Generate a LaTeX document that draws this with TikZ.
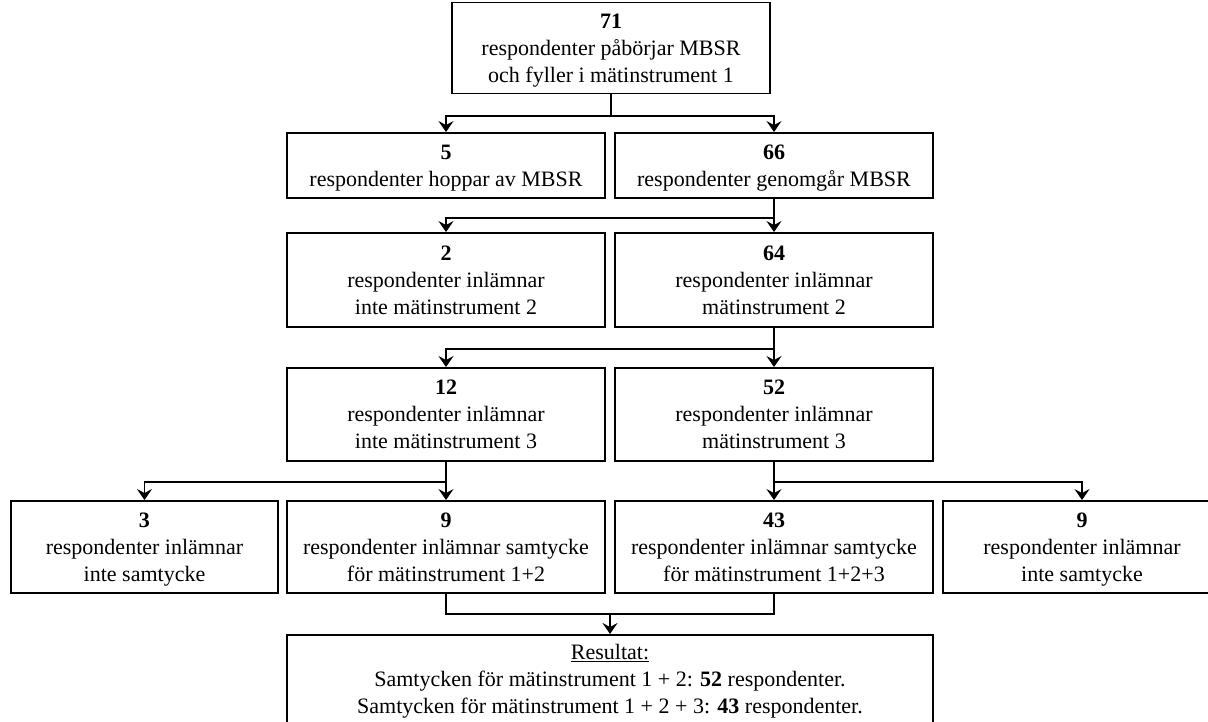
\documentclass[tikz,border=0pt]{standalone}
\usepackage{fontspec}
\setmainfont{Liberation Serif}
\usetikzlibrary{arrows.meta,calc}

\begin{document}
\begin{tikzpicture}[x=1pt,y=-1pt,
	every node/.style={font=\fontsize{22}{27}\selectfont,align=center,inner sep=0pt},
	box/.style={draw,line width=1.9pt,minimum width=318pt,text depth=0pt,execute at begin node=\strut},
	link/.style={line width=1.9pt},
	arr/.style={link,-{Stealth[length=11pt,width=15pt,inset=4pt]}}]
\useasboundingbox (0,0) rectangle (1208,721);
\clip (0,0) rectangle (1208,721);
\node[box,minimum height=91pt] (start) at (611,48) {\textbf{71}\\respondenter påbörjar MBSR\\och fyller i mätinstrument 1};
\node[box,minimum height=65pt] (drop) at (446,165.5) {\textbf{5}\\respondenter hoppar av MBSR};
\node[box,minimum height=65pt] (mbsr) at (774,165.5) {\textbf{66}\\respondenter genomgår MBSR};
\node[box,minimum height=94pt] (noTwo) at (446,280) {\textbf{2}\\respondenter inlämnar\\inte mätinstrument 2};
\node[box,minimum height=94pt] (two) at (774,280) {\textbf{64}\\respondenter inlämnar\\mätinstrument 2};
\node[box,minimum height=93pt] (noThree) at (446,414.5) {\textbf{12}\\respondenter inlämnar\\inte mätinstrument 3};
\node[box,minimum height=93pt] (three) at (774,414.5) {\textbf{52}\\respondenter inlämnar\\mätinstrument 3};
\node[box,minimum height=92pt,minimum width=267pt] (noConsA) at (144.5,547) {\textbf{3}\\respondenter inlämnar\\inte samtycke};
\node[box,minimum height=92pt] (consA) at (446,547) {\textbf{9}\\respondenter inlämnar samtycke\\för mätinstrument 1+2};
\node[box,minimum height=92pt] (consB) at (774,547) {\textbf{43}\\respondenter inlämnar samtycke\\för mätinstrument 1+2+3};
\node[box,minimum height=92pt,minimum width=278pt] (noConsB) at (1082,547) {\textbf{9}\\respondenter inlämnar\\inte samtycke};
\node[box,minimum width=646pt,anchor=north,inner ysep=9pt,text depth=12pt] (result) at (610,634) {\underline{Resultat:}\\Samtycken för mätinstrument 1 + 2: \textbf{52} respondenter.\\Samtycken för mätinstrument 1 + 2 + 3: \textbf{43} respondenter.};
\draw[arr] (start.south) -- ++(0,21.5) -| (drop.north);
\draw[arr] (start.south) -- ++(0,21.5) -| (mbsr.north);
\draw[arr] (mbsr.south) -- (two.north);
\draw[arr] (mbsr.south) -- ++(0,19) -| (noTwo.north);
\draw[arr] (two.south) -- (three.north);
\draw[arr] (two.south) -- ++(0,21) -| (noThree.north);
\draw[arr] (noThree.south) -- (consA.north);
\draw[arr] (noThree.south) -- ++(0,20) -| (noConsA.north);
\draw[arr] (three.south) -- (consB.north);
\draw[arr] (three.south) -- ++(0,20) -| (noConsB.north);
\coordinate (merge) at ($(consA.south)!0.5!(consB.south)+(0,20)$);
\draw[link] (consA.south) |- (merge) -| (consB.south);
\draw[arr] (merge) -- (result.north);
\end{tikzpicture}
\end{document}
